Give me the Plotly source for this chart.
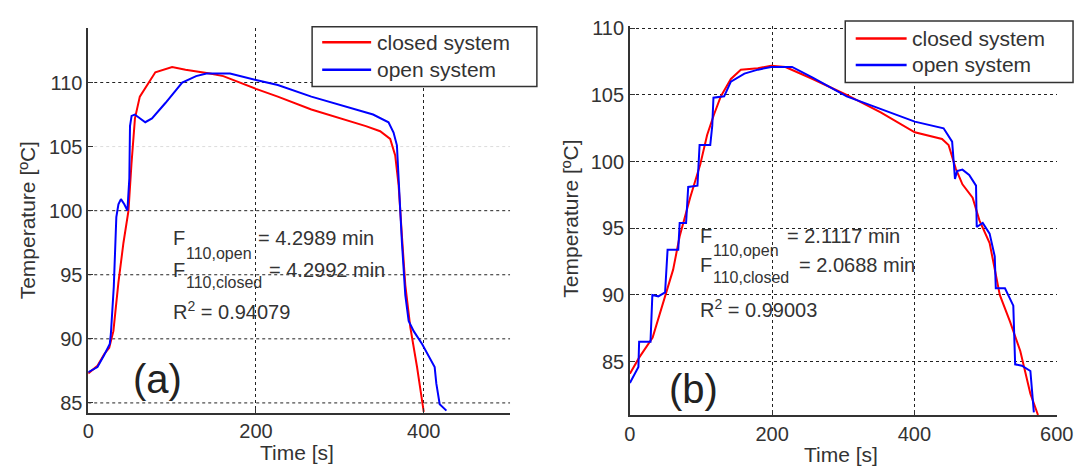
import plotly.graph_objects as go

W, H = 1092, 466

# ---- panel (a) data: time [s], temperature [degC] ----
t_a_closed = [0, 11, 19, 25, 30, 36, 42, 48, 51.5, 55.7, 61.5, 68, 80, 100, 116, 145, 161,
              200, 226, 266, 307, 331, 348, 360, 366, 370, 374, 378, 384, 392, 400]
T_a_closed = [87.3, 87.9, 88.8, 89.3, 90.6, 94.4, 97.5, 100.0, 103.6, 107.2, 108.9, 109.6, 110.8,
              111.2, 111.0, 110.7, 110.5, 109.5, 108.9, 107.9, 107.1, 106.6, 106.2, 105.6, 104.3,
              102.0, 98.0, 94.2, 90.9, 87.8, 84.3]
t_a_open = [0, 11, 18.7, 25.7, 27, 28.4, 30.5, 33.5, 36, 39, 43, 46.7, 49, 49.8, 51.7, 55.5,
            61.5, 68, 76, 92, 112, 128.6, 141, 169, 200, 226, 266, 307, 339.6, 358, 364, 368,
            370, 372, 374, 378, 382, 388, 398, 413, 415, 419, 427]
T_a_open = [87.4, 87.8, 88.7, 89.6, 90.4, 92.1, 94.1, 99.5, 100.5, 100.9, 100.5, 100.0, 102.5,
            106.6, 107.4, 107.5, 107.2, 106.9, 107.2, 108.4, 110.0, 110.5, 110.7, 110.7, 110.2,
            109.8, 108.9, 108.1, 107.5, 106.9, 106.1, 105.1, 103.0, 100.0, 97.5, 93.4, 91.4,
            90.6, 89.6, 87.8, 86.5, 84.9, 84.4]

# ---- panel (b) data ----
t_b_closed = [0, 13, 32, 41.6, 51, 60.8, 70, 84.7, 99, 108.6, 118, 127.8, 142, 156, 180, 198.6,
              218.7, 257, 304.8, 352.6, 400.5, 438.8, 448, 458, 467.5, 481.8, 491.4, 505.7, 520,
              534.4, 548.8, 563, 573.7]
T_b_closed = [84.1, 85.3, 86.8, 88.5, 90.0, 91.9, 94.4, 97.3, 99.8, 102.0, 103.5, 104.9, 106.2,
              106.9, 107.0, 107.2, 107.1, 106.2, 105.0, 103.7, 102.2, 101.7, 101.25, 99.5, 98.3,
              97.3, 95.6, 93.9, 90.0, 88.0, 85.8, 82.6, 81.0]
t_b_open = [0, 12, 13, 29, 31.6, 40, 49.5, 53, 68, 70, 79, 82, 95, 98, 113, 115.8, 117.5, 132.5,
            142, 161, 180, 198.6, 228, 257, 304.8, 352.6, 400.5, 441, 453, 455.5, 457, 460,
            467.5, 477, 486.6, 487.6, 496, 505.7, 512.9, 514.4, 527.3, 539, 541.6, 551, 563,
            567.9]
T_b_open = [83.4, 84.6, 86.5, 86.5, 90.0, 89.9, 90.2, 93.4, 93.4, 95.4, 95.4, 98.1, 98.2, 101.25,
            101.25, 102.7, 104.8, 104.9, 106.0, 106.6, 106.9, 107.1, 107.1, 106.3, 104.9, 103.95,
            103.0, 102.5, 101.5, 99.8, 98.7, 99.3, 99.4, 99.0, 98.2, 95.1, 95.4, 94.6, 92.9,
            90.5, 90.5, 89.2, 84.8, 84.7, 84.3, 81.2]

# ---- axis ticks and labels ----
x_ticks_a = [0, 200, 400]
x_ticks_b = [0, 200, 400, 600]
y_ticks = [85, 90, 95, 100, 105, 110]
series_names = ["closed system", "open system"]
stats_a = ["= 4.2989 min", "= 4.2992 min", "= 0.94079"]
stats_b = ["= 2.1117 min", "= 2.0688 min", "= 0.99003"]

RED, BLUE = "#ff0000", "#0000ff"
TXT = "#333333"
GRID = "#222222"
FONT = "Arial, Liberation Sans, sans-serif"
X_RANGE_A = [0, 503]


def px(x):
    return x / W


def py(y):
    return 1 - y / H


fig = go.Figure()
fig.add_trace(go.Scatter(x=t_a_closed, y=T_a_closed, mode="lines", name=series_names[0],
                         line=dict(color=RED, width=2), xaxis="x", yaxis="y"))
fig.add_trace(go.Scatter(x=t_a_open, y=T_a_open, mode="lines", name=series_names[1],
                         line=dict(color=BLUE, width=2), xaxis="x", yaxis="y"))
fig.add_trace(go.Scatter(x=t_b_closed, y=T_b_closed, mode="lines", name=series_names[0],
                         line=dict(color=RED, width=2), xaxis="x2", yaxis="y2"))
fig.add_trace(go.Scatter(x=t_b_open, y=T_b_open, mode="lines", name=series_names[1],
                         line=dict(color=BLUE, width=2), xaxis="x2", yaxis="y2"))

axis_common = dict(showline=True, linecolor="#333333", linewidth=1.5, mirror=False,
                   ticks="inside", ticklen=5, tickcolor="#333333",
                   showgrid=True, gridcolor=GRID, gridwidth=1, griddash="3px,3px",
                   zeroline=False, tickfont=dict(family=FONT, size=20, color=TXT))

fig.update_layout(
    width=W, height=H, margin=dict(l=0, r=0, t=0, b=0),
    paper_bgcolor="white", plot_bgcolor="white", showlegend=False,
    xaxis=dict(domain=[px(84), px(515)], range=X_RANGE_A, tickvals=x_ticks_a,
               anchor="y", **axis_common),
    yaxis=dict(domain=[py(412.5), py(20.7)], range=[84.25, 114.23], tickvals=y_ticks,
               anchor="x", **{**axis_common, "showgrid": False}),
    xaxis2=dict(domain=[px(637.3), px(1073.3)], range=[0, 600], tickvals=x_ticks_b,
                anchor="y2", **axis_common),
    yaxis2=dict(domain=[py(415), py(18)], range=[81, 110.2], tickvals=y_ticks,
                anchor="x2", **axis_common),
)

annotations = []
shapes = []

# horizontal grid of panel (a); the 105 line is printed much fainter
for v in y_ticks:
    shapes.append(dict(type="line", xref="x", yref="y", x0=X_RANGE_A[0], x1=X_RANGE_A[1],
                       y0=v, y1=v, layer="below",
                       line=dict(color="#dcdcdc" if v == 105 else GRID, width=1,
                                 dash="3px,3px")))


def text(x, y, s, size=20, color=TXT, xanchor="left", angle=0):
    annotations.append(dict(x=px(x), y=py(y), xref="paper", yref="paper", text=s,
                            showarrow=False, xanchor=xanchor, yanchor="middle",
                            textangle=angle, borderpad=0,
                            font=dict(family=FONT, size=size, color=color)))


# axis titles
text(297.5, 453, "Time [s]", size=21, xanchor="center")
text(853, 455, "Time [s]", size=21, xanchor="center")
text(22, 217, "Temperature [ºC]", size=21, xanchor="center", angle=-90)
text(577, 215, "Temperature [ºC]", size=21, xanchor="center", angle=-90)


# legend boxes
def legend(x0, y0, x1, y1, lx0, lx1, tx, rows):
    shapes.append(dict(type="rect", xref="paper", yref="paper", x0=px(x0), x1=px(x1),
                       y0=py(y1), y1=py(y0), fillcolor="white",
                       line=dict(color="#333333", width=1.5), layer="above"))
    for (ry, color, name) in rows:
        shapes.append(dict(type="line", xref="paper", yref="paper", x0=px(lx0), x1=px(lx1),
                           y0=py(ry), y1=py(ry), line=dict(color=color, width=2.5),
                           layer="above"))
        text(tx, ry, name, size=21)


legend(312.7, 19, 542.3, 80, 323, 373, 378,
       [(35, RED, series_names[0]), (63, BLUE, series_names[1])])
legend(857.3, 13.3, 1090, 76, 868, 920, 924,
       [(31, RED, series_names[0]), (58, BLUE, series_names[1])])


# F-value / R^2 statistics blocks
def stats(x, rows_y, sub_x_ends, vals):
    (y1, y2, y3) = rows_y
    text(x, y1, "F")
    text(x + 13, y1 + 15, "110,open", size=16)
    text(sub_x_ends[0], y1, vals[0])
    text(x, y2, "F")
    text(x + 13, y2 + 13, "110,closed", size=16)
    text(sub_x_ends[1], y2, vals[1])
    text(x, y3, "R<sup>2</sup> " + vals[2])


stats(170, (235, 267, 308), (256, 268), stats_a)
stats(708, (232, 262, 306), (797, 809), stats_b)

# panel labels
text(155, 378, "(a)", size=40, color="#222222", xanchor="center")
text(702, 388, "(b)", size=40, color="#222222", xanchor="center")

fig.update_layout(annotations=annotations, shapes=shapes)
fig.write_html("out.html")
